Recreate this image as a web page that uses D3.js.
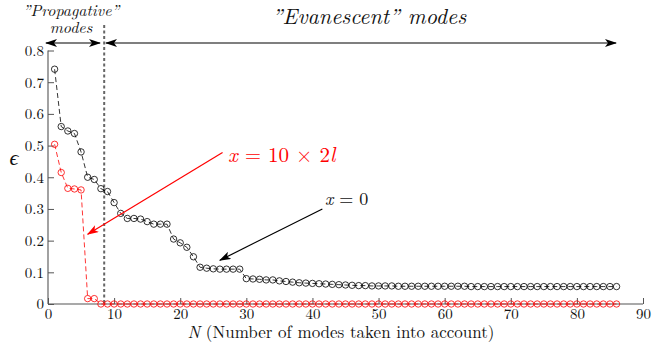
<!DOCTYPE html>
<html><head><meta charset="utf-8">
<script src="https://cdn.jsdelivr.net/npm/d3@7"></script>
<style>
body{margin:0;background:#fff}
svg{display:block}
</style></head>
<body><svg id="c" width="666" height="343"></svg>
<script>
// ---- data ----
const modesN = d3.range(1, 87); // N = 1..86
const epsX0 = [0.741,0.560,0.546,0.538,0.480,0.400,0.393,0.364,0.355,0.320,
  0.286,0.270,0.270,0.268,0.260,0.252,0.252,0.252,0.205,0.193,
  0.179,0.149,0.116,0.113,0.111,0.110,0.110,0.110,0.110,0.080,
  0.079,0.078,0.076,0.076,0.073,0.071,0.069,0.067,0.066,0.065,
  0.064,0.063,0.062,0.061,0.060,0.059,0.058,0.058,0.057,0.057,
  0.057,0.057,0.056,0.056,0.056,0.056,0.056,0.056,0.056,0.056,
  0.056,0.056,0.056,0.055,0.055,0.055,0.055,0.055,0.055,0.055,
  0.055,0.055,0.055,0.055,0.055,0.055,0.055,0.055,0.055,0.055,
  0.055,0.055,0.055,0.055,0.055,0.055];
const epsX20l = [0.504,0.415,0.365,0.363,0.360,0.017,0.017].concat(d3.range(79).map(()=>0));
const xTicks = [0,10,20,30,40,50,60,70,80,90];
const yTicks = [0,0.1,0.2,0.3,0.4,0.5,0.6,0.7,0.8];
const cutoffN = 8.5;

const FF = "Latin Modern Roman";
const svg = d3.select("#c");
const x = d3.scaleLinear([0,90],[48,643]);
const y = d3.scaleLinear([0,0.8],[304,50.5]);
const axisCol = "#555";

// defs: arrowheads
const defs = svg.append("defs");
function marker(id, col, orient){
  defs.append("marker").attr("id",id).attr("viewBox","0 0 12 8")
    .attr("refX",11).attr("refY",4).attr("markerWidth",12).attr("markerHeight",8)
    .attr("markerUnits","userSpaceOnUse").attr("orient",orient)
    .append("path").attr("d","M0,0 L12,4 L0,8 L3,4 Z").attr("fill",col);
}
marker("ak","#000","auto-start-reverse");
marker("ar","#f00","auto-start-reverse");

// axes
const gx = svg.append("g").attr("transform",`translate(0,${y(0)})`)
  .call(d3.axisBottom(x).tickValues(xTicks).tickSize(-6).tickPadding(4).tickFormat(d3.format("d")));
const gy = svg.append("g").attr("transform",`translate(${x(0)},0)`)
  .call(d3.axisLeft(y).tickValues(yTicks).tickSize(-6).tickPadding(4).tickFormat(d=>d===0?"0":d3.format(".1f")(d)));
[gx,gy].forEach(g=>{
  g.attr("font-family",FF).attr("font-size",15);
  g.select(".domain").attr("stroke",axisCol).attr("stroke-width",1.1);
  g.selectAll(".tick line").attr("stroke",axisCol);
  g.selectAll(".tick text").attr("fill","#111").attr("font-family",FF).attr("font-size",15);
});
gx.select(".domain").attr("d",`M${x(0)},0H${x(90)}`);
gy.select(".domain").attr("d",`M0,${y(0)}V${y(0.8)}`);

// cutoff vertical dashed line
svg.append("line").attr("x1",x(cutoffN)).attr("x2",x(cutoffN)).attr("y1",25).attr("y2",y(0))
  .attr("stroke","#666").attr("stroke-width",2).attr("stroke-dasharray","3,2.5");

// series
function series(vals, col){
  const pts = modesN.map((n,i)=>[n, vals[i]]);
  svg.append("path").datum(pts)
    .attr("d", d3.line().x(d=>x(d[0])).y(d=>y(d[1])))
    .attr("fill","none").attr("stroke",col).attr("stroke-width",0.8).attr("stroke-dasharray","5,3");
  svg.append("g").selectAll("circle").data(pts).join("circle")
    .attr("cx",d=>x(d[0])).attr("cy",d=>y(d[1])).attr("r",3.2)
    .attr("fill","none").attr("stroke",col).attr("stroke-width",0.8);
}
series(epsX0,"#000");
series(epsX20l,"#f00");

// top arrows
svg.append("line").attr("x1",46).attr("x2",100).attr("y1",43).attr("y2",43)
  .attr("stroke","#000").attr("stroke-width",1.2)
  .attr("marker-start","url(#ak)").attr("marker-end","url(#ak)");
svg.append("line").attr("x1",106).attr("x2",616).attr("y1",43).attr("y2",43)
  .attr("stroke","#000").attr("stroke-width",1.2)
  .attr("marker-start","url(#ak)").attr("marker-end","url(#ak)");

function txt(xp, yp, size, anchor, col){
  return svg.append("text").attr("x",xp).attr("y",yp).attr("text-anchor",anchor)
    .attr("font-family",FF).attr("font-size",size).attr("fill",col||"#111");
}
// top labels
txt(71,16,16,"middle").attr("font-style","italic").text("”Propagative”");
txt(71,33,16,"middle").attr("font-style","italic").text("modes");
txt(369,24,22,"middle").attr("font-style","italic").text("”Evanescent” modes");

// annotation arrows
svg.append("line").attr("x1",x(26.4)).attr("y1",y(0.478)).attr("x2",x(6)).attr("y2",y(0.22))
  .attr("stroke","#f00").attr("stroke-width",1.2).attr("marker-end","url(#ar)");
svg.append("line").attr("x1",x(41.5)).attr("y1",y(0.30)).attr("x2",x(26)).attr("y2",y(0.138))
  .attr("stroke","#000").attr("stroke-width",1.2).attr("marker-end","url(#ak)");

// annotation text
const t1 = txt(228,162,21,"start","#f00");
t1.append("tspan").attr("font-style","italic").text("x");
t1.append("tspan").text(" = 10 × 2");
t1.append("tspan").attr("font-style","italic").text("l");
const t2 = txt(325,205,18,"start");
t2.append("tspan").attr("font-style","italic").text("x");
t2.append("tspan").text(" = 0");

// axis titles
txt(14,165,22,"middle").attr("font-style","italic").text("ϵ");
const xt = txt(341,338,17,"middle");
xt.append("tspan").attr("font-style","italic").text("N");
xt.append("tspan").text(" (Number of modes taken into account)");
</script></body></html>
